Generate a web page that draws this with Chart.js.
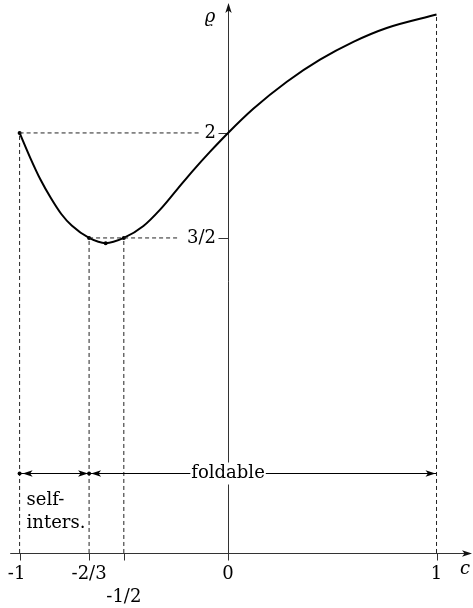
<!DOCTYPE html>
<html lang="en">
<head>
  <meta charset="UTF-8">
  <title>rho(c)</title>
  <script src="https://cdn.jsdelivr.net/npm/chart.js"></script>
  <style>
    body {
      margin: 0;
      background-color: #ffffff;
    }
    canvas {
      display: block;
    }
  </style>
</head>
<body>
  <canvas id="rhoChart" width="473" height="608"></canvas>

  <script>
    // curve samples: parameter c and radius rho
    const cVals = [-1, -0.95, -0.9, -0.85, -0.8, -0.75, -2/3, -0.587, -0.5, -0.406, -0.326, -0.246, -0.166, -0.086, 0, 0.121, 0.282, 0.441, 0.601, 0.761, 1];
    const rhoVals = [2, 1.884, 1.778, 1.690, 1.614, 1.559, 1.5, 1.475, 1.5, 1.557, 1.635, 1.729, 1.823, 1.911, 2, 2.115, 2.244, 2.349, 2.434, 2.500, 2.564];

    // marked points on the curve
    const markC = [-1, -2/3, -0.587, -0.5];
    const markRho = [2, 1.5, 1.475, 1.5];

    // axis ticks
    const xTickVals = [-1, -2/3, -1/2, 0, 1];
    const xTickLabels = ['-1', '-2/3', '-1/2', '0', '1'];
    const yTickVals = [2, 1.5];
    const yTickLabels = ['2', '3/2'];

    // ranges along the c axis
    const rangeBounds = [-1, -2/3, 1];
    const rangeRho = 0.38;

    const FONT = '18px "DejaVu Serif", serif';
    const FONT_IT = 'italic 18px "DejaVu Serif", serif';

    const curve = cVals.map((c, i) => ({ x: c, y: rhoVals[i] }));
    const marks = markC.map((c, i) => ({ x: c, y: markRho[i] }));

    function dashed(points) {
      return {
        data: points,
        showLine: true,
        borderColor: '#222',
        borderWidth: 1,
        borderDash: [4, 3],
        pointRadius: 0,
        tension: 0
      };
    }

    const guides = [
      dashed([{ x: -1, y: 0 }, { x: -1, y: 2 }]),
      dashed([{ x: -2/3, y: 0 }, { x: -2/3, y: 1.5 }]),
      dashed([{ x: -1/2, y: 0 }, { x: -1/2, y: 1.5 }]),
      dashed([{ x: 1, y: 0 }, { x: 1, y: rhoVals[rhoVals.length - 1] }]),
      dashed([{ x: -1, y: 2 }, { x: -0.135, y: 2 }]),
      dashed([{ x: -2/3, y: 1.5 }, { x: -0.24, y: 1.5 }])
    ];

    function arrowHead(ctx, x, y, dx, dy) {
      const len = 10, half = 3.2;
      const px = -dy, py = dx;
      ctx.beginPath();
      ctx.moveTo(x, y);
      ctx.lineTo(x - dx * len + px * half, y - dy * len + py * half);
      ctx.lineTo(x - dx * len * 0.75, y - dy * len * 0.75);
      ctx.lineTo(x - dx * len - px * half, y - dy * len - py * half);
      ctx.closePath();
      ctx.fill();
    }

    const axesPlugin = {
      id: 'axesPlugin',
      beforeDatasetsDraw(chart) {
        const ctx = chart.ctx;
        const xs = chart.scales.x, ys = chart.scales.y;
        const x0 = Math.round(xs.getPixelForValue(0)) + 0.5, y0 = Math.round(ys.getPixelForValue(0)) + 0.5;
        ctx.save();
        ctx.strokeStyle = '#333';
        ctx.fillStyle = '#111';
        ctx.lineWidth = 1;
        // c axis
        ctx.beginPath();
        ctx.moveTo(xs.getPixelForValue(-1.045), y0);
        ctx.lineTo(466, y0);
        ctx.stroke();
        arrowHead(ctx, 472, y0, 1, 0);
        // rho axis
        ctx.beginPath();
        ctx.moveTo(x0, y0);
        ctx.lineTo(x0, 9);
        ctx.stroke();
        arrowHead(ctx, x0, 3, 0, -1);
        // tick marks
        xTickVals.forEach(v => {
          const px = Math.round(xs.getPixelForValue(v)) + 0.5;
          ctx.beginPath();
          ctx.moveTo(px, y0);
          ctx.lineTo(px, y0 + 7);
          ctx.stroke();
        });
        yTickVals.forEach(v => {
          const py = Math.round(ys.getPixelForValue(v)) + 0.5;
          ctx.beginPath();
          ctx.moveTo(x0 - 10, py);
          ctx.lineTo(x0, py);
          ctx.stroke();
        });
        ctx.restore();
      },
      afterDatasetsDraw(chart) {
        const ctx = chart.ctx;
        const xs = chart.scales.x, ys = chart.scales.y;
        const x0 = xs.getPixelForValue(0), y0 = ys.getPixelForValue(0);
        ctx.save();
        ctx.fillStyle = '#000';
        ctx.strokeStyle = '#000';
        ctx.font = FONT;
        ctx.textBaseline = 'middle';

        // tick labels
        ctx.textAlign = 'center';
        xTickVals.forEach((v, i) => {
          const px = xs.getPixelForValue(v);
          const dy = v === -1/2 ? 44 : 21;
          ctx.fillText(xTickLabels[i], px + (v === -1 ? -3 : 0), y0 + dy);
        });
        ctx.textAlign = 'right';
        yTickVals.forEach((v, i) => {
          ctx.fillText(yTickLabels[i], x0 - 12, ys.getPixelForValue(v));
        });

        // axis names
        ctx.font = FONT_IT;
        ctx.textAlign = 'center';
        ctx.fillText('ϱ', x0 - 18, 17);
        ctx.fillText('c', 465, y0 + 16);

        // ranges of c
        const ry = Math.round(ys.getPixelForValue(rangeRho)) + 0.5;
        const bx = rangeBounds.map(v => xs.getPixelForValue(v));
        ctx.lineWidth = 1;
        ctx.beginPath();
        ctx.moveTo(bx[0], ry);
        ctx.lineTo(bx[2], ry);
        ctx.stroke();
        arrowHead(ctx, bx[0] + 3, ry, -1, 0);
        arrowHead(ctx, bx[1] - 1, ry, 1, 0);
        arrowHead(ctx, bx[1] + 2, ry, -1, 0);
        arrowHead(ctx, bx[2] - 1, ry, 1, 0);
        [bx[0], bx[1]].forEach(px => {
          ctx.beginPath();
          ctx.arc(px, ry, 2, 0, Math.PI * 2);
          ctx.fill();
        });

        ctx.font = FONT;
        const label = 'foldable';
        const w = ctx.measureText(label).width;
        ctx.fillStyle = '#fff';
        ctx.fillRect(x0 - w / 2 - 1, ry - 11, w + 2, 22);
        ctx.fillStyle = '#000';
        ctx.textAlign = 'center';
        ctx.fillText(label, x0, ry);

        ctx.textAlign = 'left';
        ctx.fillText('self-', bx[0] + 7, ry + 27);
        ctx.fillText('inters.', bx[0] + 7, ry + 50);
        ctx.restore();
      }
    };

    new Chart(document.getElementById('rhoChart'), {
      type: 'scatter',
      data: {
        datasets: [
          ...guides,
          {
            data: curve,
            showLine: true,
            borderColor: '#000',
            borderWidth: 2,
            pointRadius: 0,
            cubicInterpolationMode: 'monotone'
          },
          {
            data: marks,
            pointRadius: 2,
            pointBackgroundColor: '#000',
            pointBorderWidth: 0
          }
        ]
      },
      options: {
        responsive: false,
        animation: false,
        layout: { padding: 0, autoPadding: false },
        scales: {
          x: { type: 'linear', min: -1.094, max: 1.175, display: false },
          y: { type: 'linear', min: -0.262, max: 2.633, display: false }
        },
        plugins: {
          legend: { display: false },
          tooltip: { enabled: false }
        }
      },
      plugins: [axesPlugin]
    });
  </script>
</body>
</html>
